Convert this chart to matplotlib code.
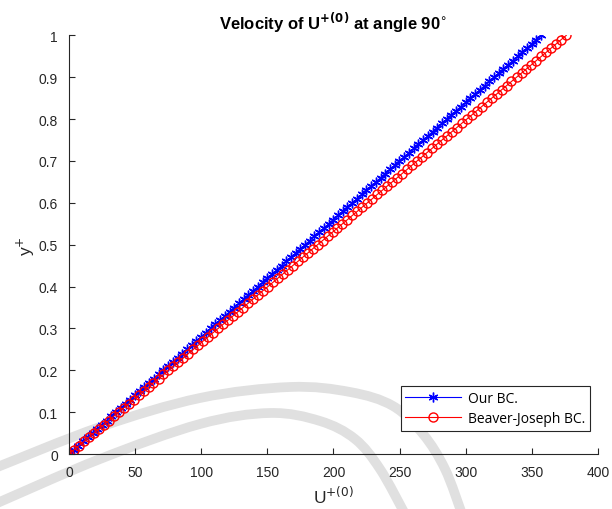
import numpy as np
import matplotlib
matplotlib.use("Agg")
import matplotlib.pyplot as plt
from matplotlib.path import Path
from matplotlib.patches import PathPatch

# y+ grid (101 samples, 0 to 1)
y_plus = [0.00, 0.01, 0.02, 0.03, 0.04, 0.05, 0.06, 0.07, 0.08, 0.09,
          0.10, 0.11, 0.12, 0.13, 0.14, 0.15, 0.16, 0.17, 0.18, 0.19,
          0.20, 0.21, 0.22, 0.23, 0.24, 0.25, 0.26, 0.27, 0.28, 0.29,
          0.30, 0.31, 0.32, 0.33, 0.34, 0.35, 0.36, 0.37, 0.38, 0.39,
          0.40, 0.41, 0.42, 0.43, 0.44, 0.45, 0.46, 0.47, 0.48, 0.49,
          0.50, 0.51, 0.52, 0.53, 0.54, 0.55, 0.56, 0.57, 0.58, 0.59,
          0.60, 0.61, 0.62, 0.63, 0.64, 0.65, 0.66, 0.67, 0.68, 0.69,
          0.70, 0.71, 0.72, 0.73, 0.74, 0.75, 0.76, 0.77, 0.78, 0.79,
          0.80, 0.81, 0.82, 0.83, 0.84, 0.85, 0.86, 0.87, 0.88, 0.89,
          0.90, 0.91, 0.92, 0.93, 0.94, 0.95, 0.96, 0.97, 0.98, 0.99,
          1.00]

# U+(0), our boundary condition
u_our = [0.0, 3.6, 7.1, 10.7, 14.3, 17.9, 21.4, 25.0, 28.6, 32.1,
         35.7, 39.3, 42.8, 46.4, 50.0, 53.6, 57.1, 60.7, 64.3, 67.8,
         71.4, 75.0, 78.5, 82.1, 85.7, 89.3, 92.8, 96.4, 100.0, 103.5,
         107.1, 110.7, 114.2, 117.8, 121.4, 125.0, 128.5, 132.1, 135.7, 139.2,
         142.8, 146.4, 149.9, 153.5, 157.1, 160.7, 164.2, 167.8, 171.4, 174.9,
         178.5, 182.1, 185.6, 189.2, 192.8, 196.4, 199.9, 203.5, 207.1, 210.6,
         214.2, 217.8, 221.3, 224.9, 228.5, 232.1, 235.6, 239.2, 242.8, 246.3,
         249.9, 253.5, 257.0, 260.6, 264.2, 267.8, 271.3, 274.9, 278.5, 282.0,
         285.6, 289.2, 292.7, 296.3, 299.9, 303.5, 307.0, 310.6, 314.2, 317.7,
         321.3, 324.9, 328.4, 332.0, 335.6, 339.2, 342.7, 346.3, 349.9, 353.4,
         357.0]

# U+(0), Beaver-Joseph boundary condition
u_bj = [0.0, 3.8, 7.5, 11.3, 15.0, 18.8, 22.6, 26.3, 30.1, 33.8,
        37.6, 41.4, 45.1, 48.9, 52.6, 56.4, 60.2, 63.9, 67.7, 71.4,
        75.2, 79.0, 82.7, 86.5, 90.2, 94.0, 97.8, 101.5, 105.3, 109.0,
        112.8, 116.6, 120.3, 124.1, 127.8, 131.6, 135.4, 139.1, 142.9, 146.6,
        150.4, 154.2, 157.9, 161.7, 165.4, 169.2, 173.0, 176.7, 180.5, 184.2,
        188.0, 191.8, 195.5, 199.3, 203.0, 206.8, 210.6, 214.3, 218.1, 221.8,
        225.6, 229.4, 233.1, 236.9, 240.6, 244.4, 248.2, 251.9, 255.7, 259.4,
        263.2, 267.0, 270.7, 274.5, 278.2, 282.0, 285.8, 289.5, 293.3, 297.0,
        300.8, 304.6, 308.3, 312.1, 315.8, 319.6, 323.4, 327.1, 330.9, 334.6,
        338.4, 342.2, 345.9, 349.7, 353.4, 357.2, 361.0, 364.7, 368.5, 372.2,
        376.0]

x_ticks = [0, 50, 100, 150, 200, 250, 300, 350, 400]
y_ticks = [0, 0.1, 0.2, 0.3, 0.4, 0.5, 0.6, 0.7, 0.8, 0.9, 1]

plt.rcParams['font.family'] = ['Liberation Sans', 'DejaVu Sans']
ink = '#262626'

fig = plt.figure(figsize=(6.12, 5.10), dpi=100)

# faint watermark arcs behind the axes (figure pixels, y measured from top)
W, H = 612.0, 510.0
def smooth_path(pts):
    # catmull-rom through the points, as cubic beziers
    p = [np.array([x / W, 1 - y / H]) for x, y in pts]
    verts, codes = [p[0]], [Path.MOVETO]
    for i in range(len(p) - 1):
        p0 = p[i - 1] if i > 0 else p[i]
        p3 = p[i + 2] if i + 2 < len(p) else p[i + 1]
        c1 = p[i] + (p[i + 1] - p0) / 6
        c2 = p[i + 1] - (p3 - p[i]) / 6
        verts += [c1, c2, p[i + 1]]
        codes += [Path.CURVE4] * 3
    return Path(verts, codes)

arcs = [
    [(-5, 469), (100, 428), (200, 399), (290, 388), (350, 393),
     (393, 407), (423, 435), (445, 470), (462, 515)],
    [(-5, 505), (100, 460), (200, 425), (270, 414), (320, 422),
     (355, 440), (380, 470), (405, 515)],
]
for pts in arcs:
    fig.patches.append(PathPatch(smooth_path(pts), transform=fig.transFigure,
                                 facecolor='none', edgecolor='#e0e0e0',
                                 linewidth=7, zorder=-5))

ax = fig.add_axes([0.1127, 0.1078, 0.8644, 0.8208])
ax.patch.set_alpha(0)

ax.plot(u_our, y_plus, color='#0000ff', marker=(6, 2, 0), markersize=7,
        linewidth=0.8, markeredgewidth=1.0, label='Our BC.')
ax.plot(u_bj, y_plus, color='#ff0000', marker='o', markersize=6.5,
        markerfacecolor='none', linewidth=0.8, markeredgewidth=1.0,
        label='Beaver-Joseph BC.')

ax.set_xlim(0, 400)
ax.set_ylim(0, 1)
ax.set_xticks(x_ticks)
ax.set_xticklabels([str(t) for t in x_ticks])
ax.set_yticks(y_ticks)
ax.set_yticklabels(['0', '0.1', '0.2', '0.3', '0.4', '0.5', '0.6', '0.7', '0.8', '0.9', '1'])

for side in ['top', 'right']:
    ax.spines[side].set_visible(False)
for side in ['left', 'bottom']:
    ax.spines[side].set_color(ink)
    ax.spines[side].set_linewidth(0.8)
ax.tick_params(direction='in', length=4, width=0.8, colors=ink,
               labelsize=10, pad=8)

ax.set_title(r'Velocity of U$^{\mathbf{+(0)}}$ at angle 90$^{\circ}$',
             fontsize=12, fontweight='bold', pad=5)
ax.set_xlabel(r'U$^{+(0)}$', fontsize=12.5, color=ink, labelpad=4)
ax.set_ylabel(r'y$^{+}$', fontsize=12.5, color=ink, labelpad=1)

leg = ax.legend(loc='lower right', bbox_to_anchor=(0.985, 0.055),
                borderaxespad=0,
                prop={'family': 'Open Sans', 'size': 10},
                fancybox=False, framealpha=1, edgecolor=ink,
                handlelength=4.0, handletextpad=0.5,
                borderpad=0.35, labelspacing=0.35)
leg.get_frame().set_linewidth(0.8)

plt.savefig("out.png", dpi=100)
